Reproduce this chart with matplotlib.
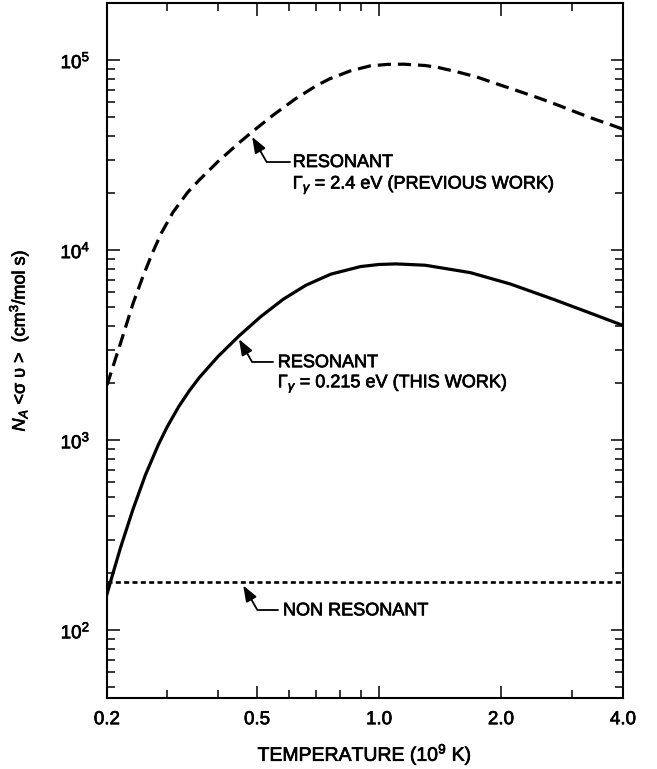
import matplotlib
matplotlib.use('Agg')
import matplotlib.pyplot as plt
import matplotlib.patheffects as pe
from matplotlib.ticker import FixedLocator, FixedFormatter, LogLocator, NullFormatter, LogFormatterMathtext

# ---------------- data ----------------
T_prev = [0.213, 0.23, 0.247, 0.26, 0.275, 0.29, 0.31, 0.337, 0.36, 0.40, 0.45, 0.486,
          0.55, 0.62, 0.70, 0.757, 0.85, 0.95, 1.05, 1.15, 1.30, 1.39, 1.55, 1.74,
          2.0, 2.19, 2.5, 2.8, 3.1, 3.38, 3.7, 4.0]
rate_prev = [1950, 3240, 5248, 7079, 9550, 12300, 15850, 20180, 23440, 29240, 36560, 41980,
             51760, 62370, 73450, 79980, 87900, 93330, 95060, 95280, 93760, 91830, 87100, 81660,
             73790, 69180, 62810, 57410, 52720, 49200, 46030, 43350]

T_this = [0.213, 0.217, 0.22, 0.23, 0.247, 0.265, 0.285, 0.30, 0.32, 0.34, 0.36, 0.40,
          0.45, 0.51, 0.58, 0.66, 0.76, 0.90, 1.0, 1.1, 1.3, 1.68, 2.11, 2.69, 3.38, 4.0]
rate_this = [155, 178, 197, 272, 434, 657, 944, 1178, 1500, 1820, 2138, 2754,
             3524, 4467, 5521, 6546, 7482, 8204, 8414, 8472, 8337, 7621, 6637, 5521, 4603, 4018]

T_nonres = [0.213, 4.0]
rate_nonres = [180, 180]

x_major = [0.213, 0.5, 1.0, 2.0, 4.0]
x_major_labels = ['0.2', '0.5', '1.0', '2.0', '4.0']
x_minor = [0.3, 0.4, 0.6, 0.7, 0.8, 0.9, 3.0]

label_prev = ['RESONANT', r'$\Gamma_{\gamma}$ = 2.4 eV (PREVIOUS WORK)']
label_this = ['RESONANT', r'$\Gamma_{\gamma}$ = 0.215 eV (THIS WORK)']
label_nonres = 'NON RESONANT'

# ---------------- style ----------------
plt.rcParams['font.family'] = ['Liberation Sans', 'DejaVu Sans']
plt.rcParams['mathtext.fontset'] = 'custom'
plt.rcParams['mathtext.rm'] = 'Liberation Sans'
plt.rcParams['mathtext.it'] = 'Liberation Sans:italic'
plt.rcParams['mathtext.bf'] = 'Liberation Sans:bold'
plt.rcParams['lines.scale_dashes'] = False

FS = 13.5
FS_NOTE = 13

fig = plt.figure(figsize=(6.57, 7.69), dpi=100)
ax = fig.add_axes([107/657, 1-698/769, 516/657, 695/769])

ax.plot(T_prev, rate_prev, color='black', lw=2.3, dashes=(9.5, 5))
ax.plot(T_this, rate_this, color='black', lw=2.3)
ax.plot(T_nonres, rate_nonres, color='black', lw=1.9, dashes=(3.6, 2.4))

ax.set_xscale('log')
ax.set_yscale('log')
ax.set_xlim(0.213, 4.0)
ax.set_ylim(44, 2.0e5)

ax.xaxis.set_major_locator(FixedLocator(x_major))
ax.xaxis.set_major_formatter(FixedFormatter(x_major_labels))
ax.xaxis.set_minor_locator(FixedLocator(x_minor))
ax.xaxis.set_minor_formatter(NullFormatter())
ax.yaxis.set_major_locator(LogLocator(base=10))
ax.yaxis.set_major_formatter(LogFormatterMathtext())
ax.yaxis.set_minor_locator(LogLocator(base=10, subs=range(2, 10)))
ax.yaxis.set_minor_formatter(NullFormatter())

ax.tick_params(which='both', direction='in', top=True, right=True, width=1.1, labelsize=FS)
ax.tick_params(which='major', length=9)
ax.tick_params(which='minor', length=5.5)
ax.tick_params(axis='x', which='major', pad=9.5)
ax.tick_params(axis='y', which='major', pad=12)
for s in ax.spines.values():
    s.set_linewidth(1.5)

ax.set_xlabel(r'TEMPERATURE (10$^{9}$ K)', fontsize=14)
ax.xaxis.set_label_coords(0.5, -0.063)
ax.set_ylabel(r'$N_{A}$ <σ υ >  (cm$^{3}$/mol s)', fontsize=13)
ax.yaxis.set_label_coords(-0.148, 0.514)

# annotations
def note(lines, x, y0, dy):
    for i, t in enumerate(lines):
        ax.text(x, y0 - i*dy, t, transform=ax.transAxes, fontsize=FS_NOTE,
                ha='left', va='baseline')

note(label_prev, 0.360, 0.764, 0.031)
note(label_this, 0.331, 0.476, 0.029)
note([label_nonres], 0.341, 0.119, 0.0)

arrow = dict(arrowstyle='-|>,head_length=0.8,head_width=0.3', color='black', lw=1.3,
             shrinkA=0, shrinkB=0, mutation_scale=12,
             connectionstyle='angle,angleA=0,angleB=-60,rad=0')
ax.annotate('', xy=(0.486, 3.95e4), xycoords='data', xytext=(0.3547, 0.7712),
            textcoords='axes fraction', arrowprops=arrow)
ax.annotate('', xy=(0.451, 3.4e3), xycoords='data', xytext=(0.3217, 0.4835),
            textcoords='axes fraction', arrowprops=arrow)
ax.annotate('', xy=(0.462, 172), xycoords='data', xytext=(0.3314, 0.1266),
            textcoords='axes fraction', arrowprops=arrow)

# slightly heavier type, like the original print
stroke = [pe.withStroke(linewidth=0.5, foreground='black')]
texts = list(ax.texts) + [ax.xaxis.label, ax.yaxis.label]
texts += ax.get_xticklabels() + ax.get_yticklabels()
for t in texts:
    t.set_path_effects(stroke)

fig.savefig('out.png', dpi=100)
